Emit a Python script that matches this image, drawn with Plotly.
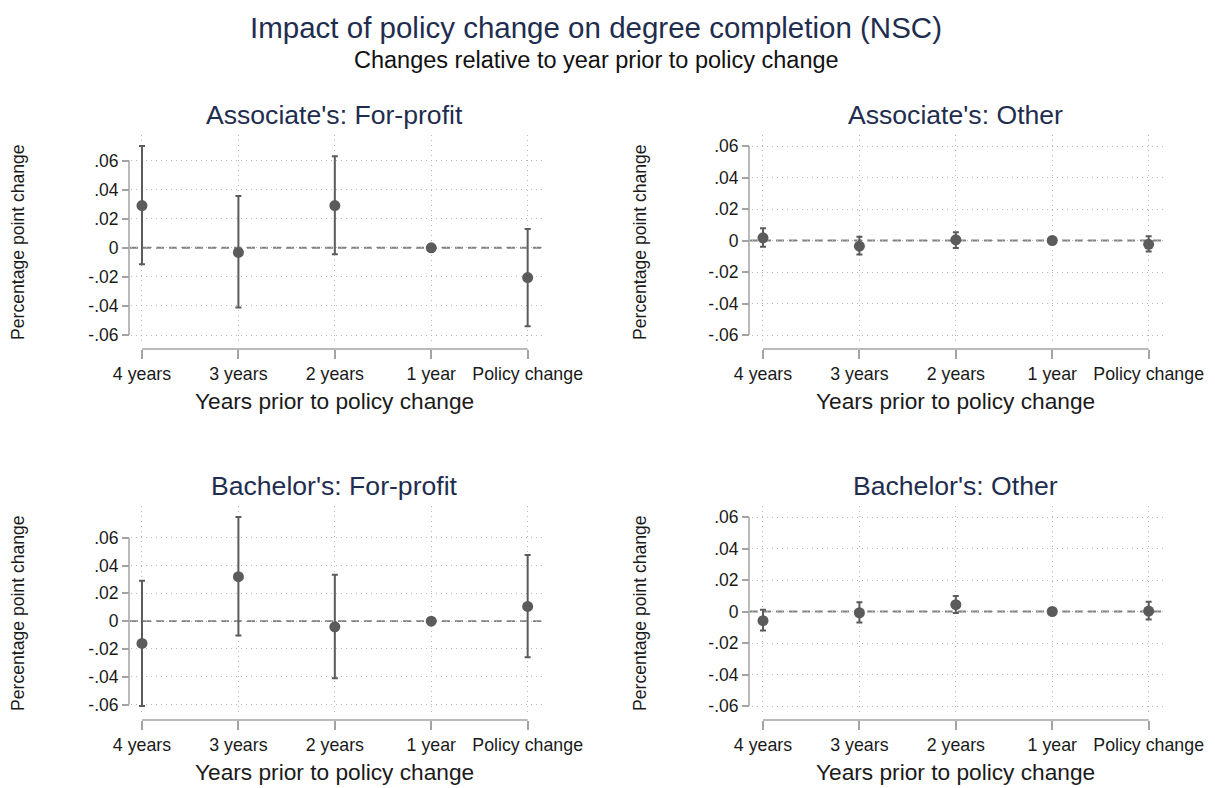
import plotly.graph_objects as go

# ---------------- data ----------------
categories = ["4 years", "3 years", "2 years", "1 year", "Policy change"]
ytick_vals = [-0.06, -0.04, -0.02, 0, 0.02, 0.04, 0.06]
ytick_text = ["-.06", "-.04", "-.02", "0", ".02", ".04", ".06"]

panel_titles = ["Associate's: For-profit", "Associate's: Other",
                "Bachelor's: For-profit", "Bachelor's: Other"]

assoc_fp_est = [0.029, -0.0032, 0.029, 0.0, -0.0205]
assoc_fp_hi = [0.070, 0.0356, 0.063, None, 0.0129]
assoc_fp_lo = [-0.0113, -0.041, -0.0044, None, -0.054]

assoc_ot_est = [0.0017, -0.0036, 0.0004, 0.0, -0.0024]
assoc_ot_hi = [0.0077, 0.0024, 0.0053, None, 0.0027]
assoc_ot_lo = [-0.0040, -0.0089, -0.0047, None, -0.0070]

bach_fp_est = [-0.016, 0.032, -0.0041, 0.0, 0.0106]
bach_fp_hi = [0.029, 0.0749, 0.0333, None, 0.0475]
bach_fp_lo = [-0.061, -0.0103, -0.041, None, -0.026]

bach_ot_est = [-0.0058, -0.0008, 0.0043, 0.0, 0.0003]
bach_ot_hi = [0.0011, 0.0058, 0.0098, None, 0.0062]
bach_ot_lo = [-0.0120, -0.0070, -0.0010, None, -0.0050]

main_title = "Impact of policy change on degree completion (NSC)"
sub_title = "Changes relative to year prior to policy change"
x_title = "Years prior to policy change"
y_title = "Percentage point change"

series = [
    (assoc_fp_est, assoc_fp_hi, assoc_fp_lo),
    (assoc_ot_est, assoc_ot_hi, assoc_ot_lo),
    (bach_fp_est, bach_fp_hi, bach_fp_lo),
    (bach_ot_est, bach_ot_hi, bach_ot_lo),
]

# ---------------- layout geometry (pixels, page coordinates) ----------------
W, H = 1215, 788
OFF = 8  # default page body margin
FONT = "Liberation Sans, Arial, sans-serif"
NAVY = "#1f2d4f"
TXT = "#1a1a1a"
MARK = "#5b5b5b"
AXC = "#a3a3a3"
GRID = "#b8b8b8"


def fx(p):
    return (p - OFF) / W


def fy(p):
    return 1 - (p - OFF) / H


col_left = [131, 752]      # plot-area left edge
col_width = 412
yline_px = [129, 749]      # y-axis line position
row_top = [135, 506]
row_height = 208
xline_gap = 6              # x-axis line below plot area
data_px = 189              # pixels spanned by the data extent
pad_top, pad_bot = 11, 8
x_range = [-0.114, 4.159]

fig = go.Figure()
layout = dict(
    template="none",
    width=W, height=H, autosize=False,
    margin=dict(l=0, r=0, t=0, b=0, pad=0),
    paper_bgcolor="white", plot_bgcolor="white",
    font=dict(family=FONT, color=TXT),
    showlegend=False,
)
shapes = []
annotations = []

for i, (est, hi, lo) in enumerate(series):
    n = i + 1
    sfx = "" if n == 1 else str(n)
    col, row = i % 2, i // 2
    L, T = col_left[col], row_top[row]
    xdom = [fx(L), fx(L + col_width)]
    ydom = [fy(T + row_height), fy(T)]

    vals_hi = [h for h in hi if h is not None] + [max(ytick_vals)]
    vals_lo = [l for l in lo if l is not None] + [min(ytick_vals)]
    d_hi, d_lo = max(vals_hi), min(vals_lo)
    ppu = data_px / (d_hi - d_lo)
    yr = [d_lo - pad_bot / ppu, d_hi + pad_top / ppu]

    err_plus = [(h - e) if h is not None else None for e, h in zip(est, hi)]
    err_minus = [(e - l) if l is not None else None for e, l in zip(est, lo)]

    fig.add_trace(go.Scatter(
        x=categories, y=est, mode="markers",
        marker=dict(size=11, color=MARK, line=dict(width=0)),
        error_y=dict(type="data", symmetric=False, array=err_plus,
                     arrayminus=err_minus, color=MARK, thickness=2, width=3),
        xaxis="x" + sfx, yaxis="y" + sfx, cliponaxis=False,
        hoverinfo="x+y",
    ))

    layout["xaxis" + sfx] = dict(
        domain=xdom, type="category", categoryorder="array",
        categoryarray=categories, range=x_range, automargin=False,
        anchor="free", position=fy(T + row_height + xline_gap),
        showgrid=True, gridcolor=GRID, griddash="1px,4px", gridwidth=1,
        ticks="outside", ticklen=9, tickwidth=1.5, tickcolor=AXC,
        showline=False, zeroline=False,
        tickfont=dict(size=17.8, color=TXT, family=FONT),
        fixedrange=True,
    )
    layout["yaxis" + sfx] = dict(
        domain=ydom, range=yr, automargin=False,
        anchor="free", position=fx(yline_px[col]),
        tickvals=ytick_vals, ticktext=ytick_text,
        showgrid=True, gridcolor=GRID, griddash="1px,4px", gridwidth=1,
        ticks="outside", ticklen=7, tickwidth=1.5, tickcolor=AXC,
        showline=False, zeroline=False,
        tickfont=dict(size=17.5, color=TXT, family=FONT),
        fixedrange=True,
    )

    # helpers: data -> paper
    def ypap(v, yr=yr, ydom=ydom):
        return ydom[0] + (v - yr[0]) / (yr[1] - yr[0]) * (ydom[1] - ydom[0])

    def xpap(k, xdom=xdom):
        return xdom[0] + (k - x_range[0]) / (x_range[1] - x_range[0]) * (xdom[1] - xdom[0])

    # y-axis line over the tick span
    shapes.append(dict(type="line", xref="paper", yref="paper",
                       x0=fx(yline_px[col]), x1=fx(yline_px[col]),
                       y0=ypap(min(ytick_vals)), y1=ypap(max(ytick_vals)),
                       line=dict(color=AXC, width=1.5), layer="above"))
    # x-axis line over the category span
    shapes.append(dict(type="line", xref="paper", yref="paper",
                       x0=xpap(0), x1=xpap(len(categories) - 1),
                       y0=fy(T + row_height + xline_gap),
                       y1=fy(T + row_height + xline_gap),
                       line=dict(color=AXC, width=1.5), layer="above"))
    # dashed zero reference line
    shapes.append(dict(type="line", xref="paper", yref="paper",
                       x0=fx(yline_px[col] + 1), x1=xdom[1],
                       y0=ypap(0), y1=ypap(0),
                       line=dict(color="#808080", width=1.8, dash="8px,5px"),
                       layer="below"))

    xc = (xpap(0) + xpap(len(categories) - 1)) / 2
    annotations.append(dict(text=panel_titles[i], xref="paper", yref="paper",
                            x=xc, y=fy(115 + row * 371), showarrow=False,
                            xanchor="center", yanchor="middle",
                            font=dict(size=26.6, color=NAVY, family=FONT)))
    annotations.append(dict(text=x_title, xref="paper", yref="paper",
                            x=xc, y=fy(401 + row * 371), showarrow=False,
                            xanchor="center", yanchor="middle",
                            font=dict(size=22.7, color=TXT, family=FONT)))
    annotations.append(dict(text=y_title, xref="paper", yref="paper",
                            x=fx(18 + col * 622), y=fy(242 + row * 371),
                            textangle=-90, showarrow=False,
                            xanchor="center", yanchor="middle",
                            font=dict(size=17.6, color=TXT, family=FONT)))

annotations.append(dict(text=main_title, xref="paper", yref="paper",
                        x=fx(596), y=fy(27), showarrow=False,
                        xanchor="center", yanchor="middle",
                        font=dict(size=29.5, color=NAVY, family=FONT)))
annotations.append(dict(text=sub_title, xref="paper", yref="paper",
                        x=fx(596), y=fy(60), showarrow=False,
                        xanchor="center", yanchor="middle",
                        font=dict(size=23.5, color="#111111", family=FONT)))

layout["shapes"] = shapes
layout["annotations"] = annotations
fig.update_layout(**layout)
fig.write_html("out.html")
